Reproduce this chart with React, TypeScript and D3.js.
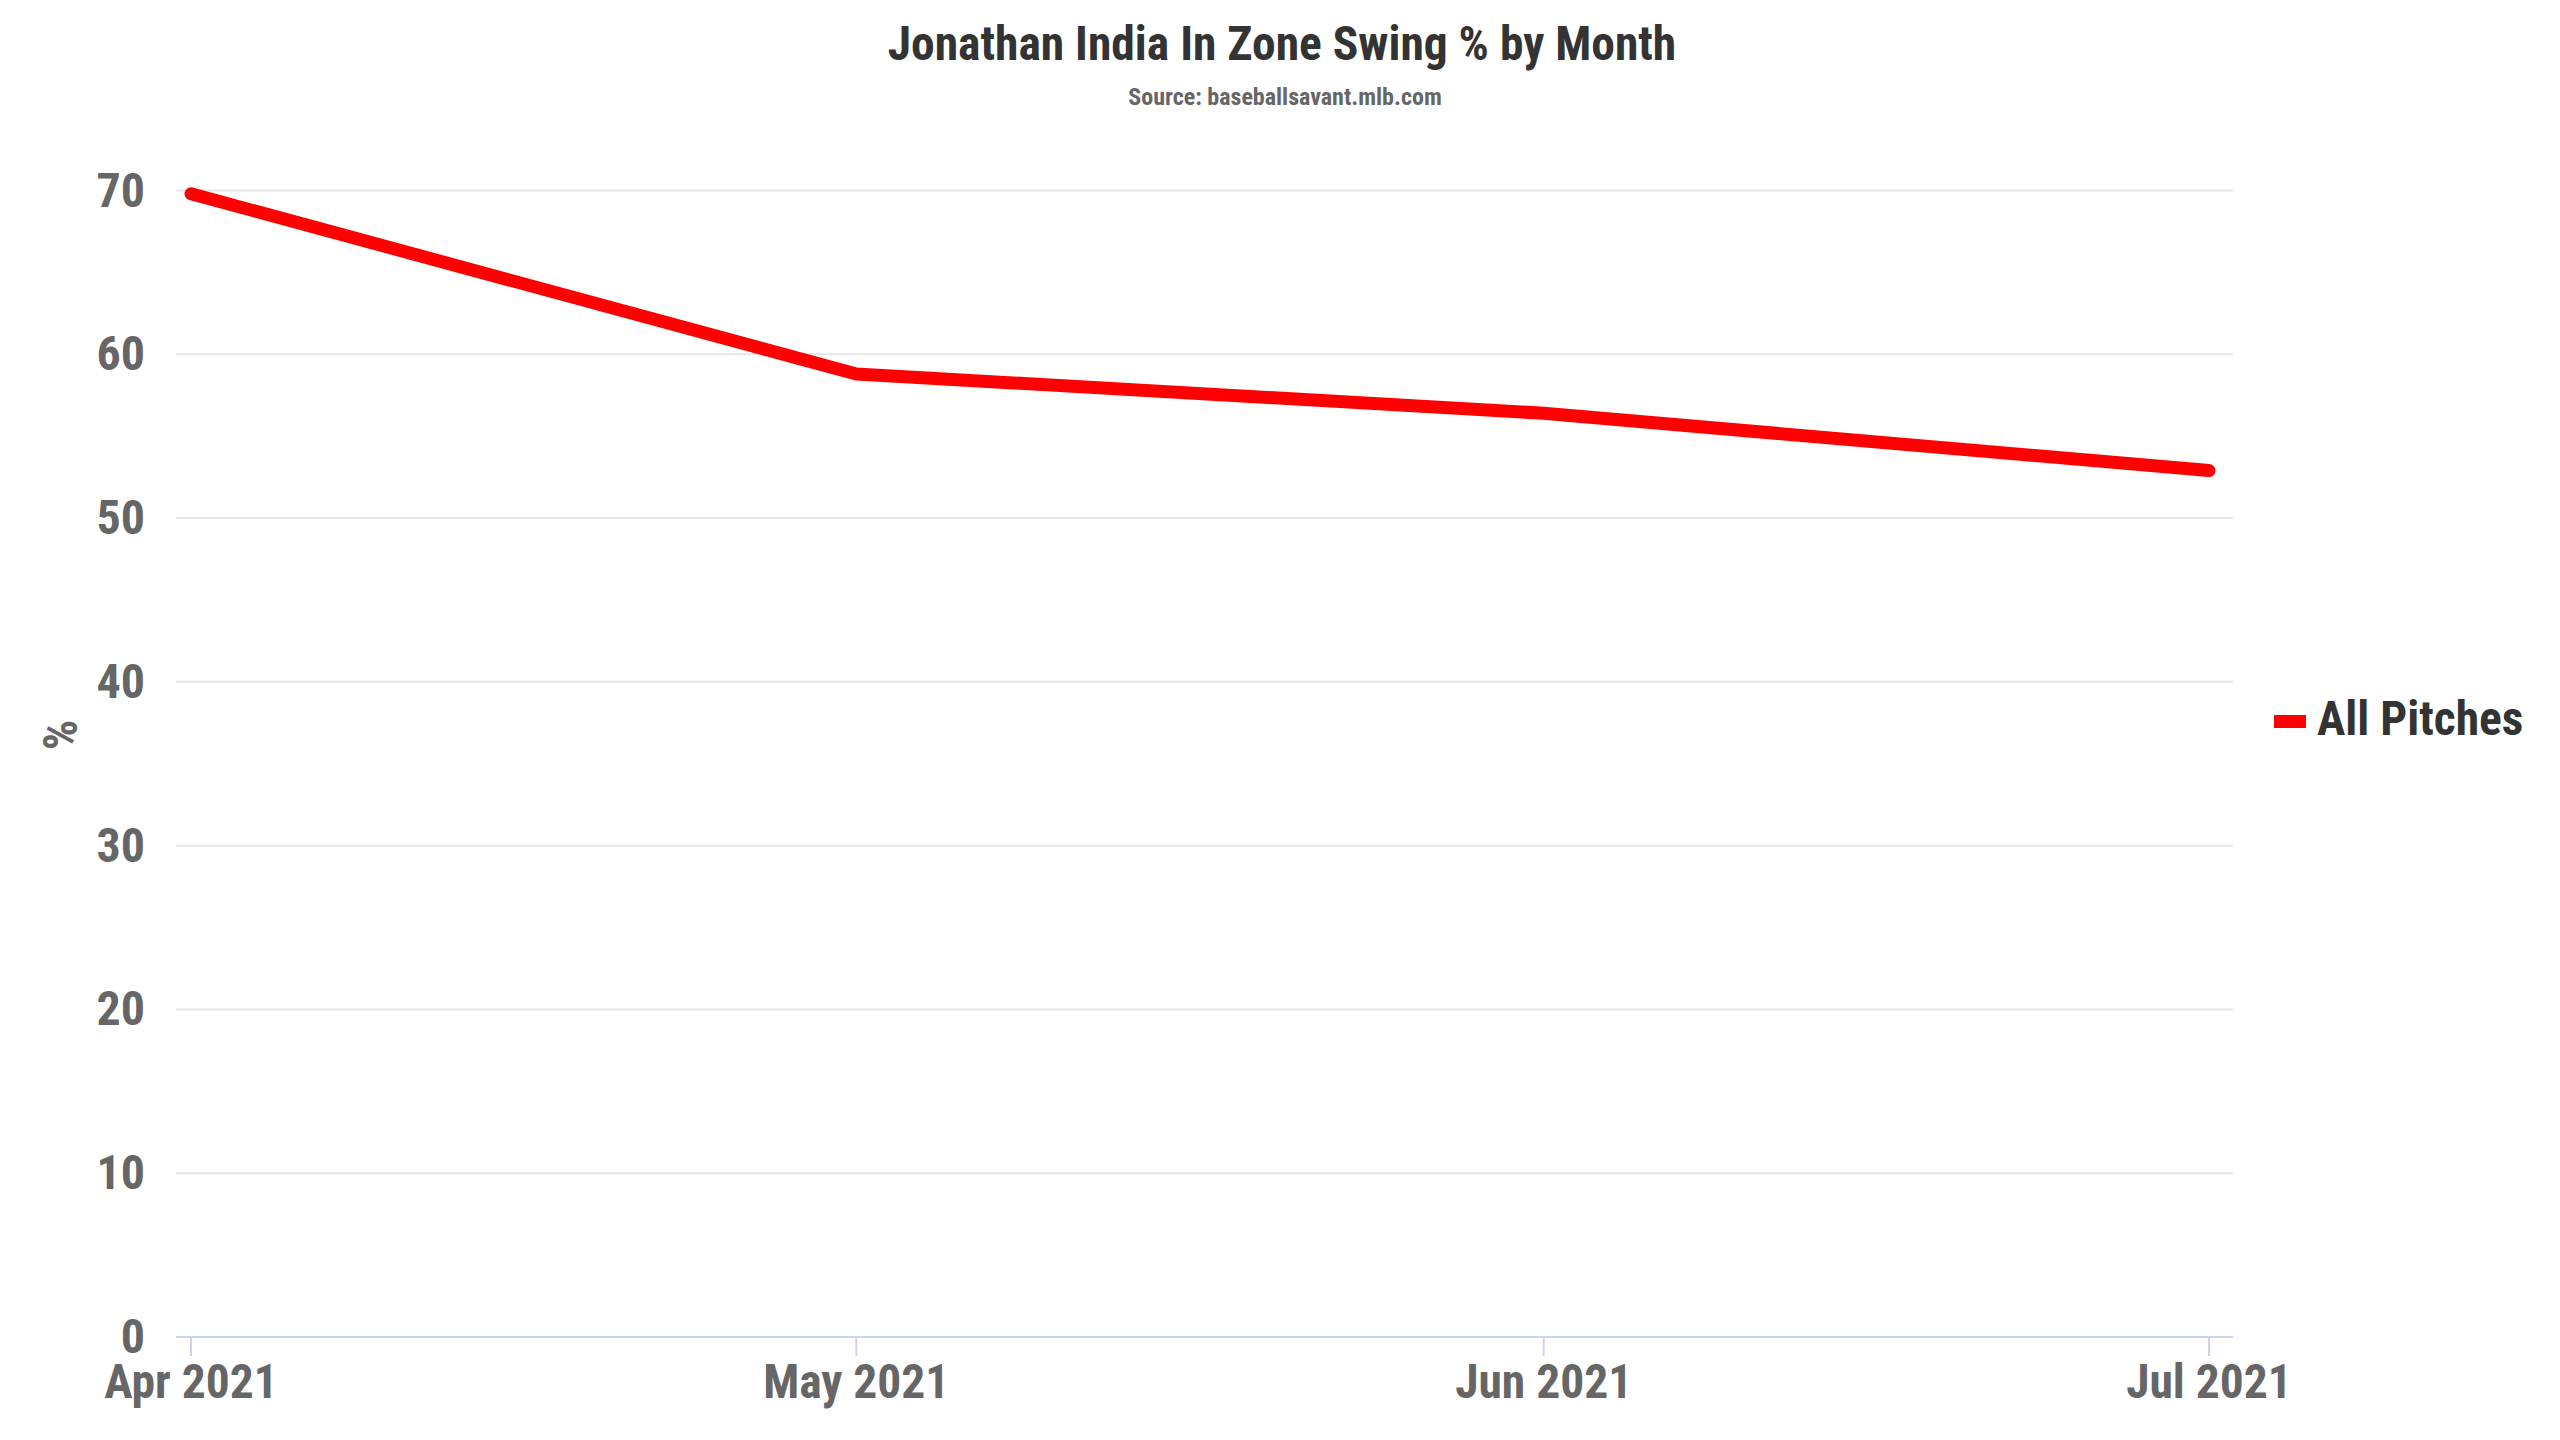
import { useEffect, useRef } from 'react';
import * as d3 from 'd3';

const months = ['2021-04-01', '2021-05-01', '2021-06-01', '2021-07-01'];
const swingPct = [69.8, 58.8, 56.4, 52.9];
const yTicks = [0, 10, 20, 30, 40, 50, 60, 70];
const seriesName = 'All Pitches';
const titleText = 'Jonathan India In Zone Swing % by Month';
const subtitleText = 'Source: baseballsavant.mlb.com';

const FONT = "'Roboto Condensed', 'Liberation Sans Narrow', 'DejaVu Sans Condensed', Roboto, sans-serif";

const App = () => {
  const svgRef = useRef<SVGSVGElement>(null);
  const width = 2560;
  const height = 1440;

  useEffect(() => {
    if (!svgRef.current) return;
    const svg = d3.select(svgRef.current);
    svg.selectAll('*').remove();

    const parse = d3.timeParse('%Y-%m-%d');
    const dates = months.map(m => parse(m) as Date);

    const plotLeft = 176;
    const plotRight = 2233;
    const plotTop = 190.5;
    const plotBottom = 1337;

    const x = d3.scaleTime()
      .domain([dates[0], dates[dates.length - 1]])
      .range([191, 2209]);
    const y = d3.scaleLinear().domain([0, 70]).range([plotBottom, plotTop]);

    svg.append('rect').attr('width', width).attr('height', height).attr('fill', '#ffffff');

    // title + subtitle
    svg.append('text')
      .attr('x', 1282).attr('y', 60)
      .attr('text-anchor', 'middle')
      .attr('font-family', FONT).attr('font-weight', 700).attr('font-size', 47.5)
      .attr('fill', '#333333')
      .text(titleText);
    svg.append('text')
      .attr('x', 1285).attr('y', 105)
      .attr('text-anchor', 'middle')
      .attr('font-family', FONT).attr('font-weight', 700).attr('font-size', 24)
      .attr('fill', '#666666')
      .text(subtitleText);

    // grid lines
    const grid = svg.append('g');
    yTicks.filter(t => t > 0).forEach(t => {
      grid.append('line')
        .attr('x1', plotLeft).attr('x2', plotRight)
        .attr('y1', y(t)).attr('y2', y(t))
        .attr('stroke', '#e6e6e6').attr('stroke-width', 2);
    });

    // y labels
    yTicks.forEach(t => {
      svg.append('text')
        .attr('x', 145).attr('y', y(t) + 16)
        .attr('text-anchor', 'end')
        .attr('font-family', FONT).attr('font-weight', 700).attr('font-size', 48)
        .attr('fill', '#666666')
        .text(t);
    });

    // y axis title
    svg.append('text')
      .attr('transform', `translate(77, 735) rotate(-90)`)
      .attr('text-anchor', 'middle')
      .attr('font-family', FONT).attr('font-weight', 700).attr('font-size', 48)
      .attr('fill', '#666666')
      .text('%');

    // x axis
    svg.append('line')
      .attr('x1', plotLeft).attr('x2', plotRight)
      .attr('y1', plotBottom).attr('y2', plotBottom)
      .attr('stroke', '#ccd6eb').attr('stroke-width', 2);
    const fmt = d3.timeFormat('%b %Y');
    dates.forEach(d => {
      svg.append('line')
        .attr('x1', x(d)).attr('x2', x(d))
        .attr('y1', plotBottom).attr('y2', plotBottom + 19)
        .attr('stroke', '#ccd6eb').attr('stroke-width', 2);
      svg.append('text')
        .attr('x', x(d)).attr('y', 1398)
        .attr('text-anchor', 'middle')
        .attr('font-family', FONT).attr('font-weight', 700).attr('font-size', 47.5)
        .attr('fill', '#666666')
        .text(fmt(d));
    });

    // series
    const line = d3.line<number>()
      .x((_, i) => x(dates[i]))
      .y(v => y(v));
    svg.append('path')
      .datum(swingPct)
      .attr('d', line)
      .attr('fill', 'none')
      .attr('stroke', '#ff0000')
      .attr('stroke-width', 13)
      .attr('stroke-linecap', 'round')
      .attr('stroke-linejoin', 'round');

    // legend
    svg.append('rect')
      .attr('x', 2274).attr('y', 715).attr('width', 32).attr('height', 13)
      .attr('fill', '#ff0000');
    svg.append('text')
      .attr('x', 2317).attr('y', 735)
      .attr('font-family', FONT).attr('font-weight', 700).attr('font-size', 47.5)
      .attr('fill', '#333333')
      .text(seriesName);
  }, []);

  return (
    <svg
      ref={svgRef}
      width={width}
      height={height}
      style={{ position: 'absolute', left: 0, top: 0, display: 'block' }}
    />
  );
};

export default App;
